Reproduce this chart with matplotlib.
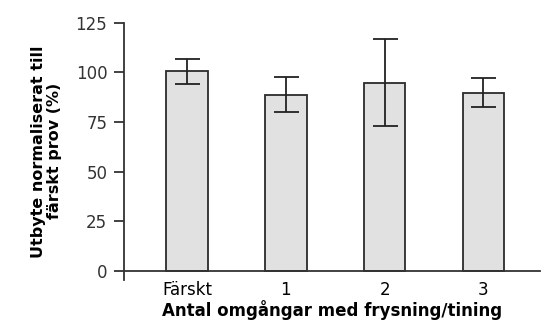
import matplotlib.pyplot as plt

# data
categories = ["Färskt", "1", "2", "3"]
yield_pct = [100.5, 88.8, 94.8, 89.8]
yield_err = [6.2, 8.8, 21.8, 7.3]
y_ticks = [0, 25, 50, 75, 100, 125]

fig = plt.figure(figsize=(5.42, 3.34), dpi=100)
ax = fig.add_axes([0.2288, 0.1617, 0.7672, 0.7706])

pos = list(range(len(categories)))
ax.bar(pos, yield_pct, width=0.42, color="#e1e1e1", edgecolor="#2b2b2b", linewidth=1.3, zorder=2)
ax.errorbar(pos, yield_pct, yerr=yield_err, fmt="none", ecolor="#222222",
            elinewidth=1.3, capsize=9, capthick=1.3, zorder=3)

ax.set_xlim(-0.636, 3.57)
ax.set_ylim(-4.5, 125)
ax.set_yticks(y_ticks)
ax.set_xticks(pos)
ax.set_xticklabels(categories)

for s in ["top", "right"]:
    ax.spines[s].set_visible(False)
ax.spines["bottom"].set_position(("data", 0))
ax.spines["left"].set_bounds(-4.5, 125)
for s in ["left", "bottom"]:
    ax.spines[s].set_color("#333333")
    ax.spines[s].set_linewidth(1.3)

ax.tick_params(axis="y", direction="out", length=7, width=1.3, color="#333333",
               labelsize=12, labelcolor="#333333", pad=5)
ax.tick_params(axis="x", length=0, labelsize=12, pad=7)

ax.set_xlabel("Antal omgångar med frysning/tining", fontsize=12, fontweight="bold", labelpad=1)
ax.set_ylabel("Utbyte normaliserat till\nfärskt prov (%)", fontsize=11.5, fontweight="bold",
              linespacing=1.05, labelpad=10)

fig.savefig("out.png", dpi=100)
